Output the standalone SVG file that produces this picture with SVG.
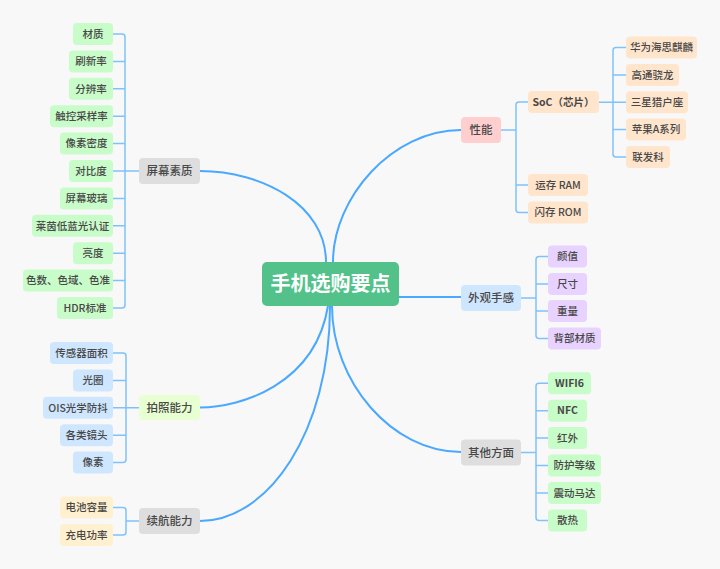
<svg xmlns="http://www.w3.org/2000/svg" width="720" height="569" viewBox="0 0 720 569">
<style>
text{font-family:"Noto Sans CJK SC","Microsoft YaHei",sans-serif;fill:#484848;text-anchor:middle;font-weight:500}
.lf{font-size:10.5px}
.l1{font-size:11.5px}
.br{fill:none;stroke:#7fc1fb;stroke-width:1.5}
.main{fill:none;stroke:#4aa8ff;stroke-width:2}
.g{fill:#c8fcc8}.b{fill:#cfe6ff}.y{fill:#fff0cf}.o{fill:#ffe5cc}.p{fill:#e8d2ff}
.gray{fill:#dedede}.pk{fill:#ffcfcf}.lg{fill:#e8ffd2}
</style>
<rect width="720" height="569" fill="#f8f8f8"/>
<g id="connectors">
<path class="main" d="M200,171 C262,171 326,205 326,262"/>
<path class="main" d="M461,130 C392,130 333,198 333,262"/>
<path class="main" d="M399,297 H461"/>
<path class="main" d="M461,452 C392,452 332,382 332,306"/>
<path class="main" d="M200,407.5 C240,407.5 315,385 328,306"/>
<path class="main" d="M200,521 C268,521 330,432 330,306"/>
<path class="br" d="M113,34 H122 Q125,34 125,37 V305 Q125,308 122,308 H113 M113,61.4 H125 M113,88.8 H125 M113,116.2 H125 M113,143.6 H125 M113,171 H139 M113,198.4 H125 M113,225.8 H125 M113,253.2 H125 M113,280.6 H125"/>
<path class="br" d="M113,353 H123 Q126,353 126,356 V459.6 Q126,462.6 123,462.6 H113 M113,380.4 H126 M113,407.8 H139 M113,435.2 H126"/>
<path class="br" d="M113,507.5 H123 Q126,507.5 126,510.5 V532 Q126,535 123,535 H113 M126,521 H139"/>
<path class="br" d="M528,102 H519 Q516,102 516,105 V209.5 Q516,212.5 519,212.5 H528 M501,130 H516 M516,185 H528"/>
<path class="br" d="M626,47.5 H616 Q613,47.5 613,50.5 V154 Q613,157 616,157 H626 M599,102.3 H626 M613,75 H626 M613,129.5 H626"/>
<path class="br" d="M548,256.5 H539 Q536,256.5 536,259.5 V335.5 Q536,338.5 539,338.5 H548 M521,298 H536 M536,284 H548 M536,311 H548"/>
<path class="br" d="M548,383.3 H539 Q536,383.3 536,386.3 V517.5 Q536,520.5 539,520.5 H548 M521,452.5 H536 M536,410.7 H548 M536,438 H548 M536,465.5 H548 M536,493 H548"/>
</g>
<g id="root"><rect x="262" y="262" width="137" height="44" rx="5" fill="#52c28a"/><text x="330.5" y="291" style="font-size:20px;font-weight:bold;fill:#fff">手机选购要点</text></g>
<g id="n-screen"><rect class="gray" x="139" y="158" width="61" height="26" rx="4"/><text class="l1" x="169.5" y="175">屏幕素质</text></g>
<g id="n-camera"><rect class="lg" x="139" y="395" width="61" height="25" rx="4"/><text class="l1" x="169.5" y="411.5">拍照能力</text></g>
<g id="n-battery"><rect class="gray" x="139" y="508" width="61" height="26" rx="4"/><text class="l1" x="169.5" y="525">续航能力</text></g>
<g id="n-perf"><rect class="pk" x="461" y="117" width="40" height="26" rx="4"/><text class="l1" x="481" y="134">性能</text></g>
<g id="n-look"><rect class="b" x="461" y="285" width="60" height="26" rx="4"/><text class="l1" x="491" y="302">外观手感</text></g>
<g id="n-other"><rect class="gray" x="461" y="439.5" width="60" height="26" rx="4"/><text class="l1" x="491" y="456.5">其他方面</text></g>
<g id="s1"><rect class="g" x="73" y="23" width="40" height="22" rx="4"/><text class="lf" x="93" y="37.7">材质</text></g>
<g id="s2"><rect class="g" x="69" y="50.4" width="44" height="22" rx="4"/><text class="lf" x="91" y="65.1">刷新率</text></g>
<g id="s3"><rect class="g" x="69" y="77.8" width="44" height="22" rx="4"/><text class="lf" x="91" y="92.5">分辨率</text></g>
<g id="s4"><rect class="g" x="50" y="105.2" width="63" height="22" rx="4"/><text class="lf" x="81.5" y="119.9">触控采样率</text></g>
<g id="s5"><rect class="g" x="60" y="132.6" width="53" height="22" rx="4"/><text class="lf" x="86.5" y="147.3">像素密度</text></g>
<g id="s6"><rect class="g" x="69" y="160" width="44" height="22" rx="4"/><text class="lf" x="91" y="174.7">对比度</text></g>
<g id="s7"><rect class="g" x="60" y="187.4" width="53" height="22" rx="4"/><text class="lf" x="86.5" y="202.1">屏幕玻璃</text></g>
<g id="s8"><rect class="g" x="32" y="214.8" width="81" height="22" rx="4"/><text class="lf" x="72.5" y="229.5">莱茵低蓝光认证</text></g>
<g id="s9"><rect class="g" x="73" y="242.2" width="40" height="22" rx="4"/><text class="lf" x="93" y="256.9">亮度</text></g>
<g id="s10"><rect class="g" x="23" y="269.6" width="90" height="22" rx="4"/><text class="lf" x="68" y="284.3">色数、色域、色准</text></g>
<g id="s11"><rect class="g" x="57" y="297" width="56" height="22" rx="4"/><text class="lf" x="85" y="311.7">HDR标准</text></g>
<g id="c1"><rect class="b" x="50" y="342" width="63" height="22" rx="4"/><text class="lf" x="81.5" y="356.7">传感器面积</text></g>
<g id="c2"><rect class="b" x="73" y="369.4" width="40" height="22" rx="4"/><text class="lf" x="93" y="384.1">光圈</text></g>
<g id="c3"><rect class="b" x="43" y="396.8" width="70" height="22" rx="4"/><text class="lf" x="78" y="411.5">OIS光学防抖</text></g>
<g id="c4"><rect class="b" x="60" y="424.2" width="53" height="22" rx="4"/><text class="lf" x="86.5" y="438.9">各类镜头</text></g>
<g id="c5"><rect class="b" x="73" y="451.6" width="40" height="22" rx="4"/><text class="lf" x="93" y="466.3">像素</text></g>
<g id="b1"><rect class="y" x="60" y="496.5" width="53" height="22" rx="4"/><text class="lf" x="86.5" y="511.2">电池容量</text></g>
<g id="b2"><rect class="y" x="60" y="524" width="53" height="22" rx="4"/><text class="lf" x="86.5" y="538.7">充电功率</text></g>
<g id="p-soc"><rect class="o" x="528" y="91" width="71" height="22" rx="4"/><text class="lf" x="563.5" y="105.7" style="font-weight:bold">SoC（芯片）</text></g>
<g id="p-ram"><rect class="o" x="528" y="174" width="60" height="22" rx="4"/><text class="lf" x="558" y="188.7">运存 RAM</text></g>
<g id="p-rom"><rect class="o" x="528" y="201.5" width="60" height="22" rx="4"/><text class="lf" x="558" y="216.2">闪存 ROM</text></g>
<g id="q1"><rect class="o" x="626" y="36.5" width="71" height="22" rx="4"/><text class="lf" x="661.5" y="51.2">华为海思麒麟</text></g>
<g id="q2"><rect class="o" x="626" y="64" width="53" height="22" rx="4"/><text class="lf" x="652.5" y="78.7">高通骁龙</text></g>
<g id="q3"><rect class="o" x="626" y="91.3" width="62" height="22" rx="4"/><text class="lf" x="657" y="106">三星猎户座</text></g>
<g id="q4"><rect class="o" x="626" y="118.5" width="60" height="22" rx="4"/><text class="lf" x="656" y="133.2">苹果A系列</text></g>
<g id="q5"><rect class="o" x="626" y="146" width="44" height="22" rx="4"/><text class="lf" x="648" y="160.7">联发科</text></g>
<g id="a1"><rect class="p" x="548" y="245.5" width="39" height="22" rx="4"/><text class="lf" x="567.5" y="260.2">颜值</text></g>
<g id="a2"><rect class="p" x="548" y="273" width="39" height="22" rx="4"/><text class="lf" x="567.5" y="287.7">尺寸</text></g>
<g id="a3"><rect class="p" x="548" y="300" width="39" height="22" rx="4"/><text class="lf" x="567.5" y="314.7">重量</text></g>
<g id="a4"><rect class="p" x="548" y="327.5" width="53" height="22" rx="4"/><text class="lf" x="574.5" y="342.2">背部材质</text></g>
<g id="o1"><rect class="g" x="548" y="372.3" width="43" height="22" rx="4"/><text class="lf" x="569.5" y="387" style="font-weight:bold">WIFI6</text></g>
<g id="o2"><rect class="g" x="548" y="399.7" width="39" height="22" rx="4"/><text class="lf" x="567.5" y="414.4" style="font-weight:bold">NFC</text></g>
<g id="o3"><rect class="g" x="548" y="427" width="39" height="22" rx="4"/><text class="lf" x="567.5" y="441.7">红外</text></g>
<g id="o4"><rect class="g" x="548" y="454.5" width="53" height="22" rx="4"/><text class="lf" x="574.5" y="469.2">防护等级</text></g>
<g id="o5"><rect class="g" x="548" y="482" width="53" height="22" rx="4"/><text class="lf" x="574.5" y="496.7">震动马达</text></g>
<g id="o6"><rect class="g" x="548" y="509.5" width="39" height="22" rx="4"/><text class="lf" x="567.5" y="524.2">散热</text></g>
</svg>
